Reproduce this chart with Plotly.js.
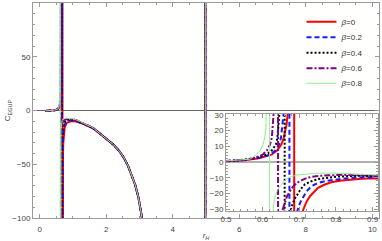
<!DOCTYPE html>
<html><head><meta charset="utf-8">
<script src="https://cdn.plot.ly/plotly-3.0.1.min.js"></script>
<style>html,body{margin:0;padding:0;background:#fff}#chart{width:382px;height:241px}</style>
</head><body><div id="chart"></div>
<script>
// beta values (legend labels)
const betas = ["0", "0.2", "0.4", "0.6", "0.8"];

// shared far tail (curves coincide for r_H >= 1.82)
const tailR = [1.82, 2.02, 2.22, 2.40, 2.52, 2.65, 2.77, 2.87, 2.97, 3.09, 3.30, 3.60, 4.00, 4.40, 4.70, 4.90, 4.98, 4.98, 5.20, 6.00, 7.00, 8.00, 9.00, 10.0];
const tailC = [-21.7, -26.5, -31.8, -38, -43.4, -51, -60, -69, -81, -100, -140, -210, -360, -700, -1500, -5000, -30000, 30000, 5000, 1500, 900, 700, 600, 550];

// beta = 0
const rB0 = [0.17, 0.25, 0.30, 0.35, 0.40, 0.45, 0.50, 0.55, 0.59, 0.624, 0.64, 0.651, 0.657, 0.661, 0.665, 0.668, 0.674, 0.680, 0.686, 0.686, 0.690, 0.695, 0.702, 0.711, 0.720, 0.729, 0.740, 0.751, 0.768, 0.787, 0.810, 0.842, 0.870, 0.900, 0.950, 1.00, 1.10, 1.32, 1.60];
const cB0 = [-0.4, -0.4, -0.35, -0.25, -0.1, 0.2, 0.6, 1.2, 2.4, 4.7, 7.5, 11.1, 15, 19, 23.5, 30, 48, 110, 3000, -3000, -160, -80, -40, -30, -25, -21.7, -18.8, -16.4, -14.4, -12.8, -11.9, -11.0, -10.6, -10.3, -10.0, -10.0, -10.3, -12.6, -16.5];
// beta = 0.2
const rB2 = [0.17, 0.25, 0.30, 0.35, 0.40, 0.45, 0.50, 0.55, 0.59, 0.620, 0.635, 0.645, 0.650, 0.654, 0.660, 0.666, 0.670, 0.673, 0.673, 0.678, 0.682, 0.686, 0.697, 0.704, 0.711, 0.720, 0.733, 0.750, 0.770, 0.795, 0.824, 0.860, 0.900, 0.950, 1.00, 1.10, 1.32, 1.60];
const cB2 = [-0.4, -0.38, -0.33, -0.22, -0.05, 0.25, 0.65, 1.3, 2.7, 4.7, 7.5, 11.1, 15.5, 21.7, 30, 50, 100, 3000, -3000, -150, -70, -40, -29, -25, -21.7, -18.5, -15.3, -13.4, -12.1, -11.1, -10.4, -9.8, -9.4, -9.2, -9.3, -9.9, -12.4, -16.3];
// beta = 0.4
const rB4 = [0.17, 0.25, 0.30, 0.35, 0.40, 0.45, 0.50, 0.55, 0.58, 0.610, 0.625, 0.636, 0.640, 0.643, 0.648, 0.654, 0.658, 0.660, 0.660, 0.664, 0.668, 0.672, 0.678, 0.687, 0.697, 0.705, 0.715, 0.730, 0.751, 0.775, 0.800, 0.850, 0.900, 0.950, 1.00, 1.10, 1.32, 1.60];
const cB4 = [-0.4, -0.37, -0.3, -0.2, 0, 0.3, 0.7, 1.4, 2.6, 4.7, 7.5, 11.1, 15, 21.7, 30, 55, 150, 3000, -3000, -120, -50, -38, -29, -23.5, -19.6, -16.8, -14.2, -12.4, -10.8, -9.9, -9.3, -8.7, -8.4, -8.4, -8.6, -9.3, -12.2, -16.2];
// beta = 0.6
const rB6 = [0.17, 0.25, 0.30, 0.35, 0.40, 0.45, 0.50, 0.55, 0.575, 0.600, 0.612, 0.620, 0.625, 0.628, 0.632, 0.636, 0.639, 0.642, 0.642, 0.645, 0.648, 0.652, 0.660, 0.666, 0.673, 0.680, 0.688, 0.697, 0.710, 0.724, 0.745, 0.770, 0.820, 0.900, 0.950, 1.00, 1.10, 1.32, 1.60];
const cB6 = [-0.4, -0.36, -0.3, -0.2, 0, 0.3, 0.7, 1.5, 2.4, 4.7, 7.5, 11.1, 15.5, 21.7, 30, 50, 100, 3000, -3000, -100, -45, -32, -25.5, -22, -19, -16.4, -14.4, -12.8, -11.1, -9.8, -9.0, -8.5, -8.1, -7.9, -7.9, -8.2, -9.0, -12.0, -16.0];
// beta = 0.8
const rB8 = [0.17, 0.25, 0.30, 0.35, 0.40, 0.45, 0.50, 0.54, 0.565, 0.583, 0.593, 0.601, 0.606, 0.609, 0.611, 0.614, 0.617, 0.619, 0.619, 0.621, 0.624, 0.630, 0.635, 0.640, 0.646, 0.652, 0.661, 0.670, 0.680, 0.697, 0.720, 0.750, 0.800, 0.850, 0.900, 0.950, 1.00, 1.10, 1.32, 1.60];
const cB8 = [-0.4, -0.35, -0.28, -0.18, 0.05, 0.35, 0.8, 1.2, 1.8, 4.7, 7.5, 11.1, 16, 21.7, 30, 50, 150, 3000, -3000, -150, -45, -27, -21, -18, -15.8, -14, -11.5, -10.1, -9.1, -8.1, -7.5, -7.1, -7.0, -7.1, -7.2, -7.4, -7.8, -8.7, -11.8, -15.9];

const seriesR = [rB0, rB2, rB4, rB6, rB8];
const seriesC = [cB0, cB2, cB4, cB6, cB8];
const colors = ["#ff0000", "#1a1aff", "#000000", "#800080", "#90ee90"];
const dashes = ["solid", "5px,3px", "2px,2px", "6px,2px,2px,2px", "solid"];
const widths = [2, 2, 2, 2, 1];
const legendY = [0.913, 0.8405, 0.769, 0.696, 0.6265];

const traces = [];
for (let i = 0; i < 5; i++) {
  const xs = seriesR[i].concat(tailR);
  const ys = seriesC[i].concat(tailC);
  const line = {color: colors[i], width: widths[i], dash: dashes[i]};
  traces.push({x: xs, y: ys, type: "scatter", mode: "lines", line: line,
    name: "<i>β</i>=" + betas[i], xaxis: "x", yaxis: "y",
    legend: i === 0 ? "legend" : "legend" + (i + 1), hoverinfo: "skip"});
}
for (let i = 0; i < 5; i++) {
  const xs = seriesR[i].concat(tailR);
  const ys = seriesC[i].concat(tailC);
  traces.push({x: xs, y: ys, type: "scatter", mode: "lines",
    line: {color: colors[i], width: widths[i], dash: dashes[i]},
    showlegend: false, xaxis: "x2", yaxis: "y2", hoverinfo: "skip"});
}

const axCol = "#9a9a9a";
const tf = {family: "Liberation Sans, Arial, sans-serif", size: 8, color: "#444"};
function frame(extra) {
  return Object.assign({
    showline: true, linecolor: axCol, linewidth: 1, mirror: "ticks",
    ticks: "inside", ticklen: 4, tickwidth: 1, tickcolor: axCol,
    showgrid: false, zeroline: false, tickfont: tf, automargin: false
  }, extra);
}

const layout = {
  width: 382, height: 241,
  margin: {l: 33, r: 3, t: 3, b: 23},
  paper_bgcolor: "#ffffff", plot_bgcolor: "#fffffe",
  font: tf,
  xaxis: frame({range: [-0.2, 10.2], tick0: 0, dtick: 2, domain: [0, 1], ticklabelstandoff: 3,
    minor: {dtick: 0.5, ticks: "inside", ticklen: 2, tickcolor: axCol, showgrid: false},
    title: {text: "<i>r</i><sub><i>H</i></sub>", font: tf, standoff: 1}}),
  yaxis: frame({range: [-100, 100], tick0: 0, dtick: 50, domain: [0, 1],
    minor: {dtick: 10, ticks: "inside", ticklen: 2, tickcolor: axCol, showgrid: false},
    zeroline: true, zerolinecolor: "#666", zerolinewidth: 1,
    title: {text: "C<sub>EGUP</sub>", font: tf, standoff: 0}}),
  xaxis2: frame({anchor: "y2", domain: [0.5578, 0.997], range: [0.5, 0.9145], tick0: 0.5, dtick: 0.1,
    minor: {dtick: 0.02, ticks: "inside", ticklen: 2, tickcolor: axCol, showgrid: false}}),
  yaxis2: frame({anchor: "x2", domain: [0.0326, 0.4837], range: [-31.1, 30.6], tick0: 0, dtick: 10,
    minor: {dtick: 2, ticks: "inside", ticklen: 2, tickcolor: axCol, showgrid: false},
    zeroline: true, zerolinecolor: "#b0b0b0", zerolinewidth: 2}),
  showlegend: true
};
for (let i = 0; i < 5; i++) {
  const key = i === 0 ? "legend" : "legend" + (i + 1);
  layout[key] = {x: 0.776, y: legendY[i], xanchor: "left", yanchor: "middle",
    bgcolor: "rgba(0,0,0,0)", borderwidth: 0, font: {family: tf.family, size: 8, color: "#333"},
    itemwidth: 30, tracegroupgap: 0};
}

Plotly.newPlot("chart", traces, layout, {staticPlot: true, displayModeBar: false});
</script></body></html>
